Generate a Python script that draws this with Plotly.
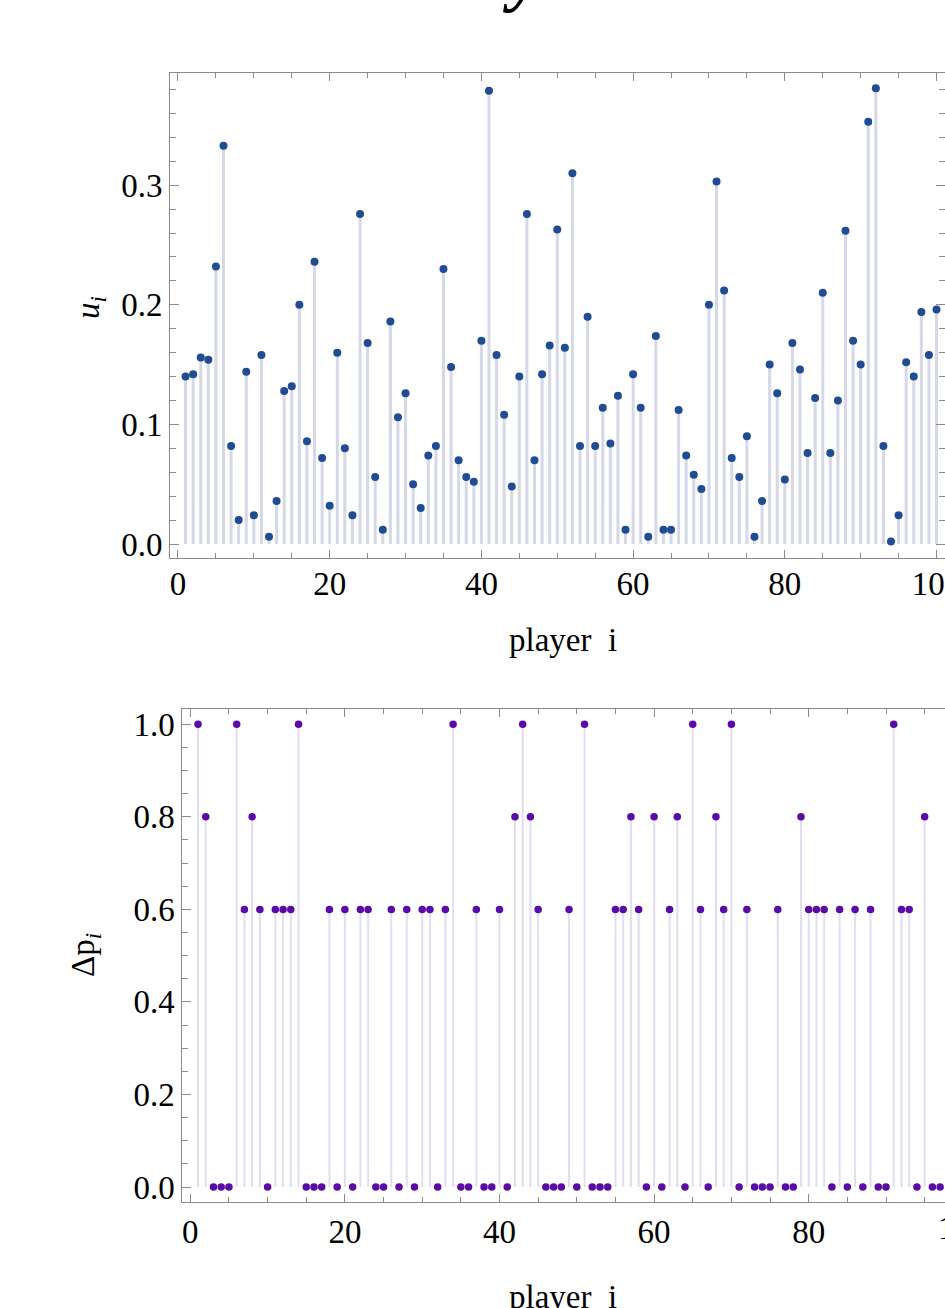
import plotly.graph_objects as go

# ---------------- data ----------------
players_top = list(range(1, 101))
u_values = [
    0.140, 0.142, 0.156, 0.154, 0.232, 0.333, 0.082, 0.020, 0.144, 0.024,
    0.158, 0.006, 0.036, 0.128, 0.132, 0.200, 0.086, 0.236, 0.072, 0.032,
    0.160, 0.080, 0.024, 0.276, 0.168, 0.056, 0.012, 0.186, 0.106, 0.126,
    0.050, 0.030, 0.074, 0.082, 0.230, 0.148, 0.070, 0.056, 0.052, 0.170,
    0.379, 0.158, 0.108, 0.048, 0.140, 0.276, 0.070, 0.142, 0.166, 0.263,
    0.164, 0.310, 0.082, 0.190, 0.082, 0.114, 0.084, 0.124, 0.012, 0.142,
    0.114, 0.006, 0.174, 0.012, 0.012, 0.112, 0.074, 0.058, 0.046, 0.200,
    0.303, 0.212, 0.072, 0.056, 0.090, 0.006, 0.036, 0.150, 0.126, 0.054,
    0.168, 0.146, 0.076, 0.122, 0.210, 0.076, 0.120, 0.262, 0.170, 0.150,
    0.353, 0.381, 0.082, 0.002, 0.024, 0.152, 0.140, 0.194, 0.158, 0.196,
]

players_bottom = list(range(1, 98))
dp_values = [
    1.0, 0.8, 0, 0, 0, 1.0, 0.6, 0.8, 0.6, 0,
    0.6, 0.6, 0.6, 1.0, 0, 0, 0, 0.6, 0, 0.6,
    0, 0.6, 0.6, 0, 0, 0.6, 0, 0.6, 0, 0.6,
    0.6, 0, 0.6, 1.0, 0, 0, 0.6, 0, 0, 0.6,
    0, 0.8, 1.0, 0.8, 0.6, 0, 0, 0, 0.6, 0,
    1.0, 0, 0, 0, 0.6, 0.6, 0.8, 0.6, 0, 0.8,
    0, 0.6, 0.8, 0, 1.0, 0.6, 0, 0.8, 0.6, 1.0,
    0, 0.6, 0, 0, 0, 0.6, 0, 0, 0.8, 0.6,
    0.6, 0.6, 0, 0.6, 0, 0.6, 0, 0.6, 0, 0,
    1.0, 0.6, 0.6, 0, 0.8, 0, 0,
]

x_ticks = [0, 20, 40, 60, 80, 100]
u_ticks = [0.0, 0.1, 0.2, 0.3]
u_tick_text = ["0.0", "0.1", "0.2", "0.3"]
dp_ticks = [0.0, 0.2, 0.4, 0.6, 0.8, 1.0]
dp_tick_text = ["0.0", "0.2", "0.4", "0.6", "0.8", "1.0"]


def stems(xs, ys):
    sx, sy = [], []
    for x, y in zip(xs, ys):
        sx += [x, x, None]
        sy += [0, y, None]
    return sx, sy


W, H = 945, 1308
FONT = "Liberation Serif"
FRAME = "#8a8a8a"

fig = go.Figure()

sx, sy = stems(players_top, u_values)
fig.add_trace(go.Scatter(x=sx, y=sy, mode="lines", xaxis="x", yaxis="y",
                         line=dict(color="#d4d8e9", width=3), hoverinfo="skip",
                         showlegend=False))
fig.add_trace(go.Scatter(x=players_top, y=u_values, mode="markers", xaxis="x", yaxis="y",
                         marker=dict(color="#1f4c93", size=8), showlegend=False,
                         name="u_i"))

sx2, sy2 = stems(players_bottom, dp_values)
fig.add_trace(go.Scatter(x=sx2, y=sy2, mode="lines", xaxis="x2", yaxis="y2",
                         line=dict(color="#e1ddf2", width=2), hoverinfo="skip",
                         showlegend=False))
fig.add_trace(go.Scatter(x=players_bottom, y=dp_values, mode="markers", xaxis="x2", yaxis="y2",
                         marker=dict(color="#5a0aa6", size=7.5), showlegend=False,
                         name="Δp_i"))

TICKFONT = dict(family=FONT, size=33, color="black")
common_axis = dict(showline=True, linecolor=FRAME, linewidth=1, automargin=False,
                   ticks="inside", tickcolor=FRAME, tickwidth=1, showgrid=False,
                   zeroline=False, tickfont=TICKFONT, ticklabeloverflow="allow")

# top panel pixel geometry
top_px, bot_px = 73.3, 557.7
fig.update_layout(
    xaxis=dict(domain=[170 / W, 1.0], range=[(170 - 178.0) / 7.6, (946.5 - 178.0) / 7.6],
               tickvals=x_ticks, ticklen=8, mirror="ticks", ticklabelstandoff=-3,
               minor=dict(dtick=5, tick0=0, ticks="inside", ticklen=5, tickcolor=FRAME),
               anchor="y", **common_axis),
    yaxis=dict(domain=[1 - bot_px / H, 1 - top_px / H],
               range=[(544 - bot_px) / 1196.0, (544 - top_px) / 1196.0],
               tickvals=u_ticks, ticktext=u_tick_text, ticklen=9, mirror="ticks",
               minor=dict(dtick=0.02, tick0=0, ticks="inside", ticklen=6, tickcolor=FRAME),
               anchor="x", **common_axis),
    xaxis2=dict(domain=[182.3 / W, 1.0], range=[(182.3 - 190.3) / 7.73, (945 - 190.3) / 7.73],
                tickvals=x_ticks, ticklen=8, mirror="ticks", ticklabelstandoff=1,
                minor=dict(dtick=5, tick0=0, ticks="inside", ticklen=5, tickcolor=FRAME),
                anchor="y2", **common_axis),
    yaxis2=dict(domain=[1 - 1201.7 / H, 1 - 709.3 / H],
                range=[(1187 - 1201.7) / 462.7, (1187 - 709.3) / 462.7],
                tickvals=dp_ticks, ticktext=dp_tick_text, ticklen=9, mirror=False,
                minor=dict(dtick=0.05, tick0=0, ticks="inside", ticklen=6, tickcolor=FRAME),
                anchor="x2", **common_axis),
    width=W, height=H,
    margin=dict(l=0, r=0, t=0, b=0, autoexpand=False),
    paper_bgcolor="white", plot_bgcolor="white",
    showlegend=False,
)

ann_font = dict(family=FONT, size=33, color="black")
fig.add_annotation(text="player  i", xref="paper", yref="paper",
                   x=563 / W, y=1 - 640 / H, xanchor="center", yanchor="middle",
                   showarrow=False, font=ann_font)
fig.add_annotation(text="player  i", xref="paper", yref="paper",
                   x=563 / W, y=1 - 1297 / H, xanchor="center", yanchor="middle",
                   showarrow=False, font=ann_font)
fig.add_annotation(text="<i>u</i><sub><i>i</i></sub>", xref="paper", yref="paper",
                   x=90 / W, y=1 - 308 / H, xanchor="center", yanchor="middle",
                   textangle=-90, showarrow=False, font=ann_font)
fig.add_annotation(text="Δp<sub><i>i</i></sub>", xref="paper", yref="paper",
                   x=85 / W, y=1 - 955 / H, xanchor="center", yanchor="middle",
                   textangle=-90, showarrow=False, font=ann_font)
# tick label "100" of the lower panel, which lies past the right edge of the picture
fig.add_annotation(text="100", xref="paper", yref="paper",
                   x=(190.3 + 100 * 7.73) / W, y=1 - 1228 / H, xanchor="center", yanchor="middle",
                   showarrow=False, font=TICKFONT)
# partially visible panel title at the very top
fig.add_annotation(text="<b><i>y</i></b>", xref="paper", yref="paper",
                   x=522 / W, y=1 - 15 / H, xanchor="center", yanchor="bottom",
                   showarrow=False, font=dict(family=FONT, size=70, color="black"))

post = (
    "document.documentElement.style.overflow='hidden';"
    "document.body.style.margin='0px';"
    "document.body.style.overflow='hidden';"
)
fig.write_html("out.html", config={"displayModeBar": False}, post_script=post)
